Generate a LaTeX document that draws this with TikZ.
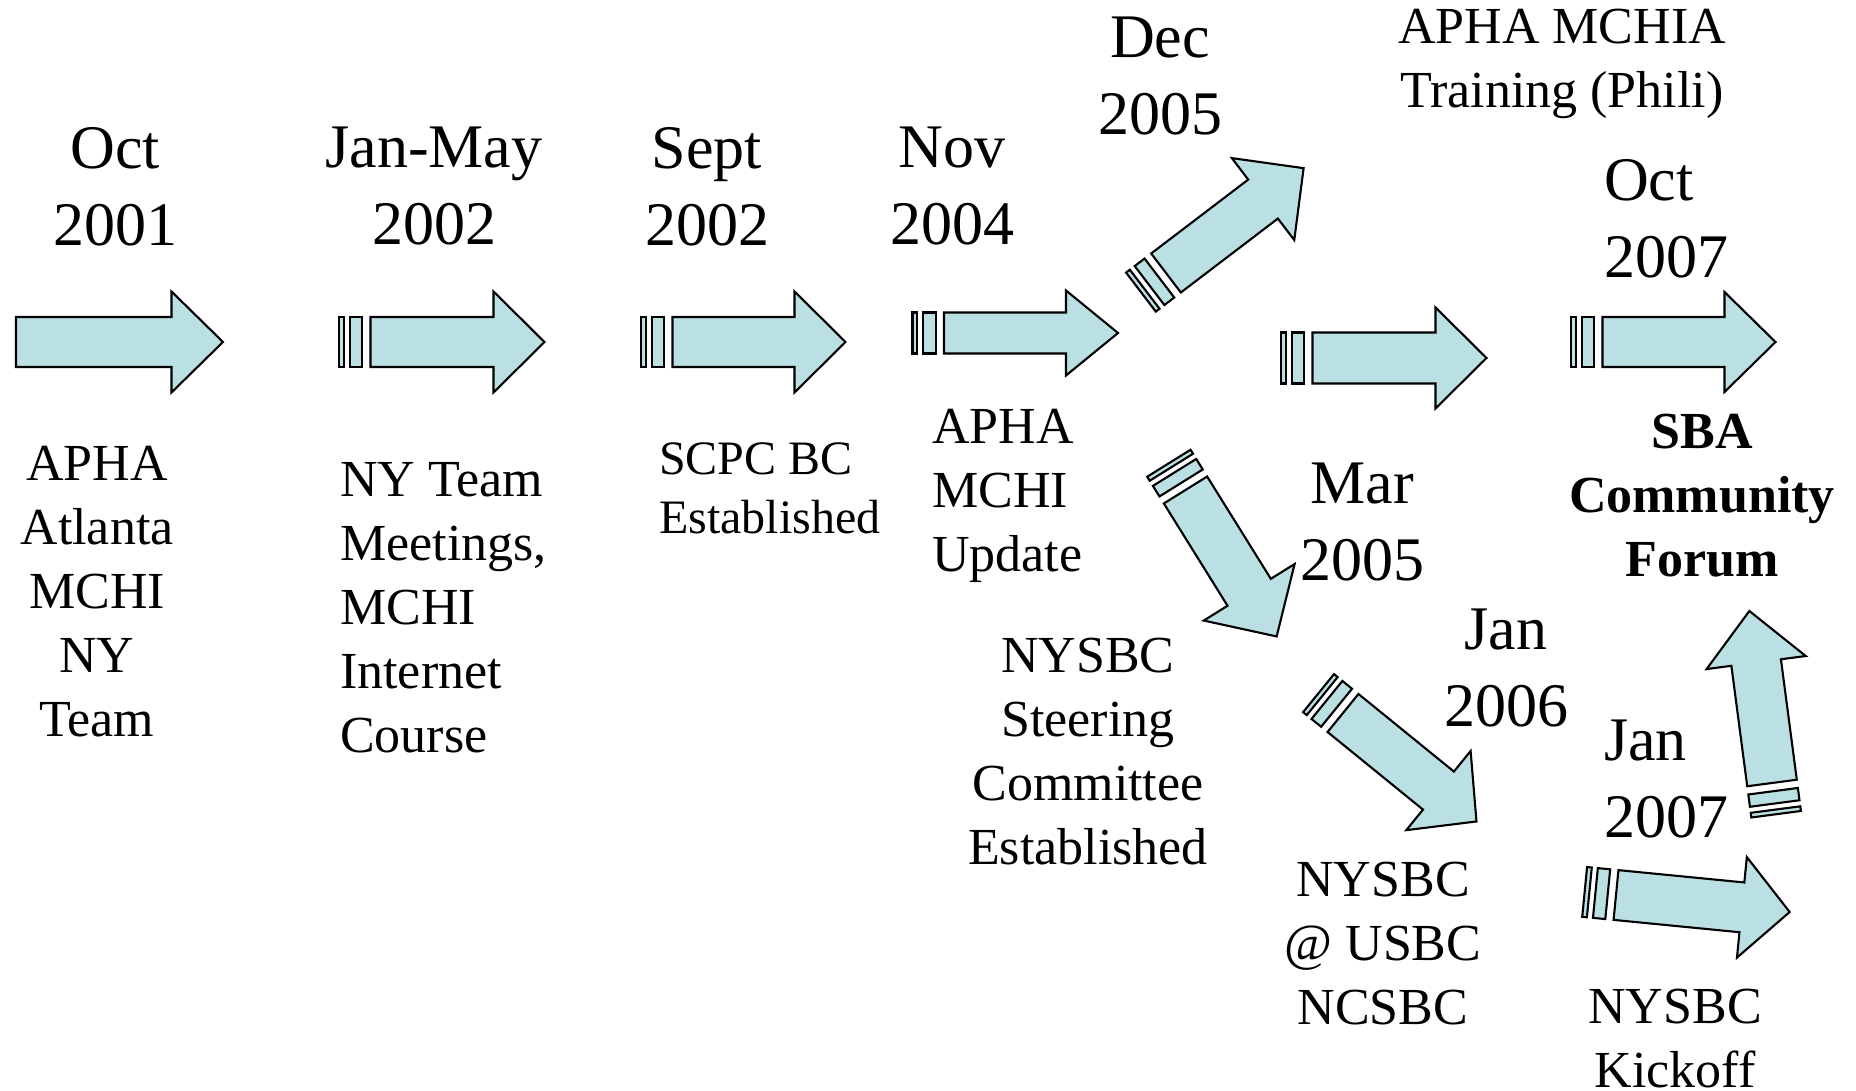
\documentclass[tikz,border=0pt]{standalone}
\usepackage{fontspec}
\setmainfont{Liberation Serif}
\definecolor{arrowfill}{RGB}{187,224,227}
\tikzset{
  arr/.style={draw=black, fill=arrowfill, line width=2.1pt, line join=miter},
  datelbl/.style={font=\fontsize{62}{77}\selectfont, align=center, inner sep=0pt},
  desclbl/.style={font=\fontsize{52}{64}\selectfont, align=center, inner sep=0pt},
  descleft/.style={font=\fontsize{52}{64}\selectfont, align=left, inner sep=0pt, anchor=west},
}
% name, x, y, angle, length, body half-width, head half-width, head length, stripes
\newcommand\tlarrow[9]{%
  \begin{scope}[shift={(#2,#3)}, rotate=#4]
    \draw[arr] (0,-#6) -- ({#5-#8},-#6) -- ({#5-#8},-#7) -- (#5,0) -- ({#5-#8},#7) -- ({#5-#8},#6) -- (0,#6) -- cycle;
    \coordinate (#1-tail) at (0,0);
    \coordinate (#1-tip) at (#5,0);
    \ifnum#9=1
      \draw[arr] (-20.7,-#6) rectangle (-8.3,#6);
      \draw[arr] (-31.5,-#6) rectangle (-26.8,#6);
    \fi
  \end{scope}}
\begin{document}
\begin{tikzpicture}[x=1pt,y=-1pt]
\useasboundingbox (0,0) rectangle (1856,1091);
% arrows
\tlarrow{a1}{16}{342}{0}{207}{25}{50.5}{51.5}{0}
\tlarrow{a2}{370.5}{342}{0}{174}{25}{50.5}{51}{1}
\tlarrow{a3}{672.5}{342}{0}{173}{25}{50.5}{51}{1}
\tlarrow{a4}{944}{333}{0}{174}{20.5}{42.5}{52}{1}
\tlarrow{a5}{1312.5}{358}{0}{174}{25.5}{50.5}{51}{1}
\tlarrow{a6}{1602.5}{342}{0}{173}{25}{50}{51}{1}
\tlarrow{a7}{1166}{273}{37.3}{173}{24.5}{51.5}{51}{1}
\tlarrow{a8}{1185.5}{490}{-58.1}{172.5}{25.5}{53.5}{52}{1}
\tlarrow{a9}{1343}{713}{-39.1}{172}{24.5}{51}{49}{1}
\tlarrow{a10}{1772}{783}{97.5}{173.5}{25}{50}{52}{1}
\tlarrow{a11}{1616}{895}{-5.6}{174.5}{25}{50.5}{48}{1}
% dates
\node[datelbl] (d1) at (115,186.5) {Oct\\2001};
\node[datelbl] (d2) at (434,186.5) {Jan-May\\2002};
\node[datelbl] (d3) at (707,186.5) {Sept\\2002};
\node[datelbl] (d4) at (952,186.5) {Nov\\2004};
\node[datelbl] (d5) at (1160,76) {Dec\\2005};
\node[datelbl, align=left, anchor=west] (d6) at (1604,218.5) {Oct\\2007};
\node[datelbl] (d7) at (1362,522.5) {Mar\\2005};
\node[datelbl] (d8) at (1506,668.5) {Jan\\2006};
\node[datelbl, align=left, anchor=west] (d9) at (1604,779) {Jan\\2007};
% descriptions
\node[desclbl] (t1) at (97,592) {APHA\\Atlanta\\MCHI\\NY\\Team};
\node[descleft] (t2) at (340,607.5) {NY Team\\Meetings,\\MCHI\\Internet\\Course};
\node[font=\fontsize{48}{59}\selectfont, align=left, inner sep=0pt, anchor=west] (t3) at (659,488.5) {SCPC BC\\Established};
\node[descleft] (t4) at (932,496) {APHA\\MCHI\\Update};
\node[desclbl] (t5) at (1562,64) {APHA MCHIA\\Training (Phili)};
\node[desclbl] (t6) at (1088,751.5) {NYSBC\\Steering\\Committee\\Established};
\node[desclbl, font=\fontsize{52}{64}\selectfont\bfseries] (t7) at (1702,496) {SBA\\Community\\Forum};
\node[desclbl] (t8) at (1383,943.5) {NYSBC\\@ USBC\\NCSBC};
\node[desclbl] (t9) at (1675,1039) {NYSBC\\Kickoff};
\end{tikzpicture}
\end{document}
